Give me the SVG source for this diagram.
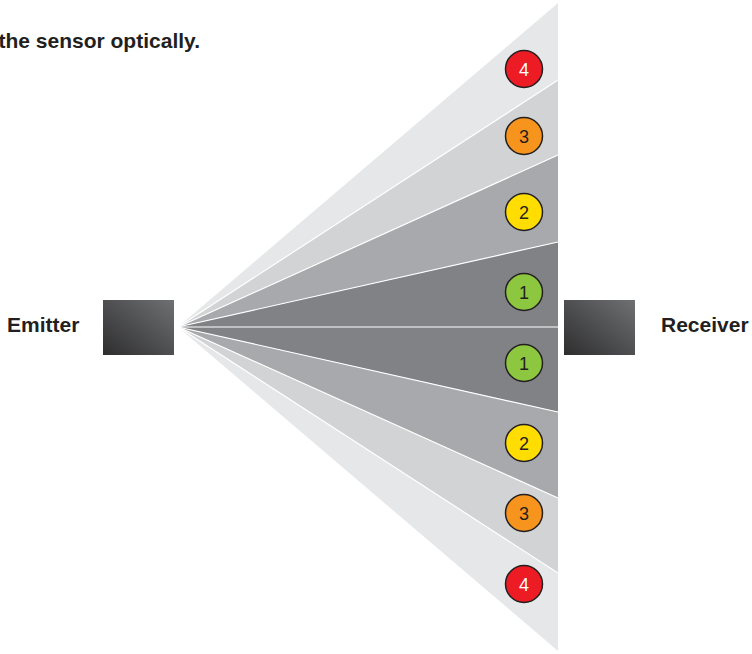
<svg xmlns="http://www.w3.org/2000/svg" width="752" height="654" viewBox="0 0 752 654">
<defs>
<linearGradient id="boxg" x1="0" y1="1" x2="1" y2="0">
<stop offset="0" stop-color="#2e2e2f"/>
<stop offset="1" stop-color="#6f7072"/>
</linearGradient>
<style>
.lbl{font-family:"Liberation Sans",Arial,sans-serif;font-weight:bold;font-size:21px;fill:#231f20}
.num{font-family:"Liberation Sans",Arial,sans-serif;font-size:18px;text-anchor:middle}
.c{stroke:#231f20;stroke-width:1.5}
.sep{stroke:#ffffff;stroke-width:1.2;fill:none}
.b4{fill:#e6e7e8}.b3{fill:#d1d3d4}.b2{fill:#a7a9ac}.b1{fill:#808285}
</style>
</defs>
<rect width="752" height="654" fill="#ffffff"/>
<text class="lbl" x="200" y="48" text-anchor="end">the sensor optically.</text>
<g id="beam">
<polygon class="b4" points="178,327 558,3 558,80"/>
<polygon class="b3" points="178,327 558,80 558,155"/>
<polygon class="b2" points="178,327 558,155 558,242"/>
<polygon class="b1" points="178,327 558,242 558,327"/>
<polygon class="b1" points="178,327 558,327 558,412"/>
<polygon class="b2" points="178,327 558,412 558,498"/>
<polygon class="b3" points="178,327 558,498 558,573"/>
<polygon class="b4" points="178,327 558,573 558,651"/>
</g>
<g id="connectors">
<line class="sep" x1="178" y1="327" x2="558" y2="80"/>
<line class="sep" x1="178" y1="327" x2="558" y2="155"/>
<line class="sep" x1="178" y1="327" x2="558" y2="242"/>
<line class="sep" x1="178" y1="327" x2="558" y2="327"/>
<line class="sep" x1="178" y1="327" x2="558" y2="412"/>
<line class="sep" x1="178" y1="327" x2="558" y2="498"/>
<line class="sep" x1="178" y1="327" x2="558" y2="573"/>
</g>
<g id="emitter">
<rect x="103" y="300" width="71" height="55" fill="url(#boxg)"/>
<text class="lbl" x="7" y="332">Emitter</text>
</g>
<g id="receiver">
<rect x="564" y="300" width="71" height="55" fill="url(#boxg)"/>
<text class="lbl" x="661" y="332">Receiver</text>
</g>
<g id="zone4top"><circle class="c" cx="524" cy="69" r="18.5" fill="#ed1c24"/><text class="num" x="524" y="75.5" fill="#ffffff">4</text></g>
<g id="zone3top"><circle class="c" cx="524" cy="136" r="18.5" fill="#f7941d"/><text class="num" x="524" y="142.5" fill="#231f20">3</text></g>
<g id="zone2top"><circle class="c" cx="524" cy="212" r="18.5" fill="#ffdd00"/><text class="num" x="524" y="218.5" fill="#231f20">2</text></g>
<g id="zone1top"><circle class="c" cx="524" cy="292" r="18.5" fill="#8dc63f"/><text class="num" x="524" y="298.5" fill="#231f20">1</text></g>
<g id="zone1bot"><circle class="c" cx="524" cy="363" r="18.5" fill="#8dc63f"/><text class="num" x="524" y="369.5" fill="#231f20">1</text></g>
<g id="zone2bot"><circle class="c" cx="524" cy="443" r="18.5" fill="#ffdd00"/><text class="num" x="524" y="449.5" fill="#231f20">2</text></g>
<g id="zone3bot"><circle class="c" cx="524" cy="513" r="18.5" fill="#f7941d"/><text class="num" x="524" y="519.5" fill="#231f20">3</text></g>
<g id="zone4bot"><circle class="c" cx="524" cy="584" r="18.5" fill="#ed1c24"/><text class="num" x="524" y="590.5" fill="#ffffff">4</text></g>
</svg>
